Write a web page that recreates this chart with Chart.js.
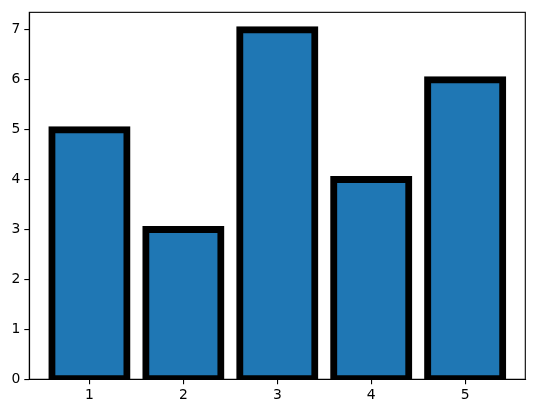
<!DOCTYPE html>
<html>
<head>
<meta charset="utf-8">
<script src="https://cdn.jsdelivr.net/npm/chart.js@4"></script>
<style>
  html, body { margin: 0; padding: 0; background: #fff; }
  #wrap { width: 534px; height: 413px; }
</style>
</head>
<body>
<div id="wrap"><canvas id="barCanvas" width="534" height="413"></canvas></div>
<script>
// chart data
const categories = [1, 2, 3, 4, 5];
const values = [5, 3, 7, 4, 6];
const xTicks = [1, 2, 3, 4, 5];
const yTicks = [0, 1, 2, 3, 4, 5, 6, 7];

const tickFont = { family: 'DejaVu Sans', size: 13.9 };

// full box around the axes like matplotlib spines
const frame = {
  id: 'frame',
  afterDraw(chart) {
    const { ctx, chartArea: a } = chart;
    ctx.save();
    ctx.strokeStyle = '#000';
    ctx.lineWidth = 1.1;
    ctx.strokeRect(a.left, a.top, a.right - a.left, a.bottom - a.top);
    ctx.restore();
  }
};

new Chart(document.getElementById('barCanvas'), {
  type: 'bar',
  data: {
    datasets: [{
      data: categories.map((c, i) => ({ x: c, y: values[i] })),
      backgroundColor: '#1f77b4',
      borderColor: '#000',
      borderWidth: 7,
      borderSkipped: false,
      inflateAmount: 3.5,
      barPercentage: 0.8,
      categoryPercentage: 1,
      clip: 0
    }]
  },
  options: {
    responsive: false,
    animation: false,
    layout: { padding: { top: 10, right: 8.7, left: 0, bottom: 0 } },
    plugins: { legend: { display: false }, tooltip: { enabled: false } },
    scales: {
      x: {
        type: 'linear',
        min: 0.36, max: 5.64,
        offset: false,
        afterBuildTicks: s => { s.ticks = xTicks.map(v => ({ value: v })); },
        afterFit: s => { s.height = 33.7; },
        grid: { display: true, offset: false, drawOnChartArea: false, drawTicks: true, tickLength: 5, color: '#000', lineWidth: 1.1 },
        border: { display: true, color: '#000', width: 1.1 },
        ticks: { color: '#000', font: tickFont, padding: 3, maxRotation: 0, callback: v => String(v) }
      },
      y: {
        min: 0, max: 7.35,
        afterBuildTicks: s => { s.ticks = yTicks.map(v => ({ value: v })); },
        afterFit: s => { s.width = 29.3; },
        grid: { display: true, drawOnChartArea: false, drawTicks: true, tickLength: 5, color: '#000', lineWidth: 1.1 },
        border: { display: true, color: '#000', width: 1.1 },
        ticks: { color: '#000', font: tickFont, padding: 4, callback: v => String(v) }
      }
    }
  },
  plugins: [frame]
});
</script>
</body>
</html>
